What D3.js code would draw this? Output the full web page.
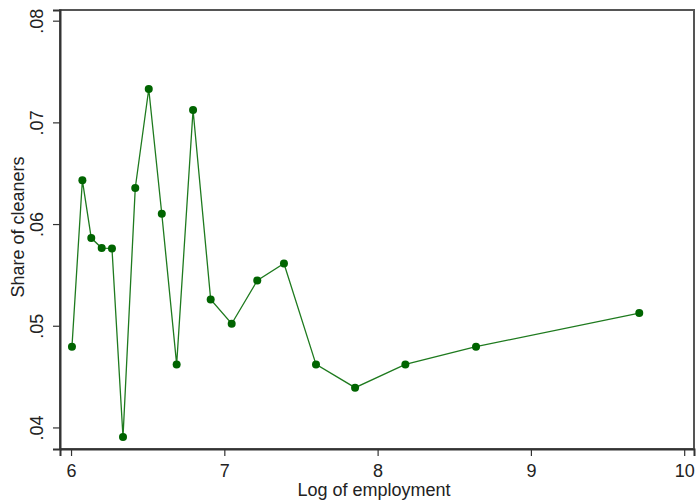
<!DOCTYPE html>
<html><head><meta charset="utf-8">
<script src="https://cdn.jsdelivr.net/npm/d3@7"></script>
<style>body{margin:0;background:#fff;} text{font-family:"Liberation Sans",Arial,sans-serif;}</style>
</head><body>
<svg id="c" width="696" height="501"></svg>
<script>
const logEmployment = [6.006,6.074,6.132,6.200,6.267,6.339,6.419,6.507,6.592,6.689,6.796,6.911,7.048,7.215,7.389,7.598,7.853,8.181,8.642,9.707];
const shareCleaners = [0.04794,0.0643,0.05862,0.05764,0.0576,0.03906,0.06355,0.07328,0.06101,0.0462,0.07122,0.05258,0.0502,0.05445,0.05612,0.0462,0.04391,0.0462,0.04794,0.05125];
const xTicks = [6,7,8,9,10];
const yTicks = [0.04,0.05,0.06,0.07,0.08];
const xTitle = "Log of employment";
const yTitle = "Share of cleaners";

const svg = d3.select("#c");
const L=60,R=694,T=10,B=449;
const x = d3.scaleLinear().domain([5.928,10.064]).range([L,R]);
const y = d3.scaleLinear().domain([0.03788,0.08105]).range([B,T]);
const fmt = v => d3.format(".2f")(v).replace(/^0/,"");
const txt = "#222";

// frame
svg.append("rect").attr("x",L).attr("y",T).attr("width",R-L).attr("height",B-T)
  .attr("fill","none").attr("stroke","#555").attr("stroke-width",2);

// axes
const gx = svg.append("g").attr("transform",`translate(0,${B})`)
  .call(d3.axisBottom(x).tickValues(xTicks).tickSize(7).tickPadding(6).tickFormat(d3.format("d")));
gx.select(".domain").attr("stroke","#333").attr("stroke-width",2);
gx.selectAll(".tick line").attr("stroke","#333").attr("stroke-width",1.2);
gx.selectAll(".tick text").attr("font-size",18).attr("fill",txt).attr("dy",null).attr("y",28);

const gy = svg.append("g").attr("transform",`translate(${L},0)`)
  .call(d3.axisLeft(y).tickValues(yTicks).tickSize(7).tickFormat(fmt));
gy.select(".domain").attr("stroke","#333").attr("stroke-width",2);
gy.selectAll(".tick line").attr("stroke","#333").attr("stroke-width",1.2);
gy.selectAll(".tick text").attr("font-size",18).attr("fill",txt)
  .attr("x",null).attr("dy",null).attr("text-anchor","middle")
  .attr("transform","translate(-17,0) rotate(-90)");

// titles
svg.append("text").attr("x",374).attr("y",496).attr("text-anchor","middle")
  .attr("font-size",18).attr("fill",txt).text(xTitle);
svg.append("text").attr("transform","translate(24,227) rotate(-90)").attr("text-anchor","middle")
  .attr("font-size",18).attr("fill",txt).text(yTitle);

// data
const data = logEmployment.map((v,i)=>({x:v,y:shareCleaners[i]}));
svg.append("path").datum(data)
  .attr("d",d3.line().x(d=>x(d.x)).y(d=>y(d.y)))
  .attr("fill","none").attr("stroke","#1e7a1e").attr("stroke-width",1.3);
svg.selectAll("circle.pt").data(data).enter().append("circle")
  .attr("class","pt").attr("cx",d=>x(d.x)).attr("cy",d=>y(d.y)).attr("r",4)
  .attr("fill","#006400");
</script>
</body></html>
